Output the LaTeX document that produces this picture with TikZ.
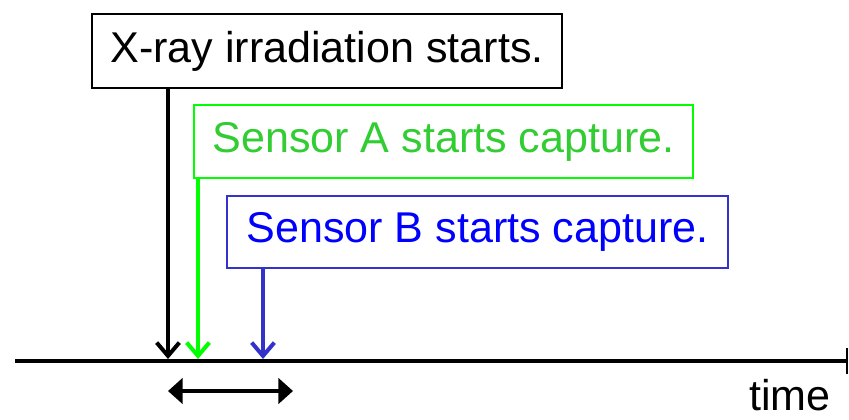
\documentclass[tikz,border=0pt]{standalone}
\usepackage{fontspec}
\setmainfont{Liberation Sans}
\usepackage{tikz}
\usetikzlibrary{arrows.meta}
\definecolor{aframe}{RGB}{0,255,0}
\definecolor{atext}{RGB}{50,205,50}
\definecolor{bframe}{RGB}{51,51,204}
\definecolor{btext}{RGB}{0,0,255}
\begin{document}
\begin{tikzpicture}[x=0.75pt,y=-0.75pt,
    event/.style={draw,line width=1.5pt,fill=white,inner sep=0pt,
      font=\fontsize{32.3pt}{36pt}\selectfont},
    trigger/.style={line width=3pt,-{Straight Barb[length=10pt,width=17pt]}}]
    \useasboundingbox (0,0) rectangle (849,419);
    % time axis
    \coordinate (t0) at (15,361);
    \coordinate (t1) at (848,361);
    \draw[line width=3pt,-{Bar[width=19pt,line width=1.5pt]}] (t0)--(t1);
    \node[anchor=base,inner sep=0pt,font=\fontsize{32.3pt}{36pt}\selectfont] (lbl) at (790,410) {time};
    % hit points on the axis
    \coordinate (hx) at (168,359);
    \coordinate (ha) at (198,359);
    \coordinate (hb) at (263,359);
    % event boxes
    \node[event,minimum width=352.5pt,minimum height=55.5pt] (xray) at (327,51) {X-ray irradiation starts.};
    \node[event,draw=aframe,text=atext,minimum width=374.25pt,minimum height=54.75pt] (sa) at (443.5,141.5) {Sensor A starts capture.};
    \node[event,draw=bframe,text=btext,minimum width=375.75pt,minimum height=54pt] (sb) at (477.5,232) {Sensor B starts capture.};
    \draw[trigger] (xray.south -| hx)--(hx);
    \draw[trigger,aframe] (sa.south -| ha)--(ha);
    \draw[trigger,bframe] (sb.south -| hb)--(hb);
    % delay
    \coordinate (d0) at (168,391);
    \coordinate (d1) at (293,391);
    \draw[line width=3pt,{Triangle[length=11pt,width=19pt]}-{Triangle[length=11pt,width=19pt]}] (d0)--(d1);
\end{tikzpicture}
\end{document}
